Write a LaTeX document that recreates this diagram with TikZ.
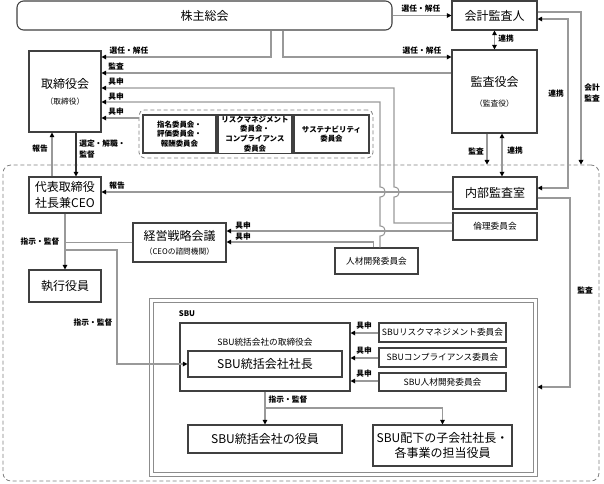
\documentclass[tikz,border=0pt]{standalone}
\usepackage{fontspec}
\setmainfont{Noto Sans CJK JP}
\usepackage{tikz}
\usetikzlibrary{calc}
\usetikzlibrary{arrows.meta}

\newcommand{\tsbig}{\fontsize{9}{11}\selectfont}
\newcommand{\tsmid}{\fontsize{6.5}{8}\selectfont}
\newcommand{\tssml}{\fontsize{5.8}{8}\selectfont}
\newcommand{\tscmt}{\fontsize{5.6}{7.2}\selectfont\bfseries}

\tikzset{
  box/.style={draw=black!75, line width=.8pt, align=center, inner sep=1pt, fill=white},
  bigtxt/.style={font=\tsbig},
  midtxt/.style={font=\tsmid},
  cmt/.style={box, line width=1.1pt, font=\tscmt},
  area/.style={draw=black!50, line width=.6pt, dash pattern=on 3pt off 2pt},
  link/.style={draw=black!40, line width=.8pt},
  lbl/.style={font=\tssml\bfseries, inner sep=0pt, align=center},
  >={Triangle[length=3.5pt,width=3.5pt,color=black]}
}

\begin{document}
\begin{tikzpicture}[x=.75pt,y=-.75pt]
\useasboundingbox (0,0) rectangle (604,483);

% areas
\node[area, rounded corners=6pt, minimum width=447pt, minimum height=237pt] (corp) at (301,323) {};
\node[area, rounded corners=4pt, minimum width=175.5pt, minimum height=36pt] (grp) at (256,134) {};
\node[draw=black!45, line width=.75pt, double, double distance=2.25pt, minimum width=288pt, minimum height=130.5pt] (sbu) at (343,387) {};

% top
\node[box, bigtxt, rounded corners=5pt, minimum width=281.25pt, minimum height=21.75pt] (gms) at (204.5,15.5) {株主総会};
\node[box, bigtxt, minimum width=63.75pt, minimum height=21.75pt] (acct) at (494.5,15.5) {会計監査人};
\node[box, bigtxt, minimum width=63.75pt, minimum height=62.25pt] (asb) at (494.5,91.5) {監査役会\\[4pt]{\tssml （監査役）}};
\node[box, bigtxt, minimum width=54pt, minimum height=60.75pt] (board) at (65,91.5) {取締役会\\[1pt]{\tssml （取締役）}};

% committees
\node[cmt, minimum width=54.75pt, minimum height=28.5pt] (nom) at (179.5,134) {指名委員会・\\評価委員会・\\報酬委員会};
\node[cmt, minimum width=55.5pt, minimum height=28.5pt] (risk) at (255,134) {リスクマネジメント\\委員会・\\コンプライアンス\\委員会};
\node[cmt, minimum width=56.25pt, minimum height=28.5pt] (sus) at (331.5,134) {サステナビリティ\\委員会};

% executive side
\node[box, font=\fontsize{9}{11.5}\selectfont, minimum width=54pt, minimum height=27pt] (ceo) at (65,195) {代表取締役\\社長兼CEO};
\node[box, bigtxt, minimum width=63pt, minimum height=24pt] (audit) at (495,193) {内部監査室};
\node[box, midtxt, minimum width=63pt, minimum height=20.25pt] (ethics) at (495,226.5) {倫理委員会};
\node[box, bigtxt, minimum width=69.75pt, minimum height=29.25pt] (strat) at (179.5,242.5) {経営戦略会議\\[-.5pt]{\tssml （CEOの諮問機関）}};
\node[box, midtxt, minimum width=62.25pt, minimum height=19.5pt] (hr) at (376.5,261) {人材開発委員会};
\node[box, bigtxt, minimum width=54pt, minimum height=24pt] (exec) at (65,286) {執行役員};

% SBU
\node[lbl] at (187,314) {SBU};
\node[box, minimum width=127.5pt, minimum height=51pt] (sbub) at (265,357) {};
\node[lbl, font=\tsmid] at (265,342) {SBU統括会社の取締役会};
\node[box, bigtxt, minimum width=115.5pt, minimum height=19.5pt] (sbup) at (265,364) {SBU統括会社社長};
\node[box, bigtxt, minimum width=115.5pt, minimum height=21pt] (sbuo) at (265,439) {SBU統括会社の役員};
\node[box, bigtxt, minimum width=104.25pt, minimum height=30.75pt] (sbusub) at (442.5,445.5) {SBU配下の子会社社長・\\各事業の担当役員};
\node[box, midtxt, minimum width=95.25pt, minimum height=14.25pt] (sburm) at (442.5,332.5) {SBUリスクマネジメント委員会};
\node[box, midtxt, minimum width=95.25pt, minimum height=14.25pt] (sbucp) at (442.5,357.5) {SBUコンプライアンス委員会};
\node[box, midtxt, minimum width=95.25pt, minimum height=13.5pt] (sbuhr) at (442.5,382) {SBU人材開発委員会};

% shareholders
\draw[link,->] (gms.east) -- (acct.west);
\node[lbl] at (421,9) {選任・解任};
\draw[link,->] (gms.south -| 271,0) |- (board.east |- 0,57);
\node[lbl] at (129,51) {選任・解任};
\draw[link,->] (gms.south -| 283,0) |- (asb.west |- 0,57);
\node[lbl] at (422,51) {選任・解任};
\draw[link,<->] (acct.south) -- (asb.north);
\node[lbl] at (506,39) {連携};

% into the board
\draw[link,->] (asb.west |- 0,73) -- (board.east |- 0,73);
\node[lbl] at (116,66) {監査};
\draw[link,->] (ethics.west |- 0,223) -| (394,197) .. controls (401,197) and (401,187) .. (394,187) |- (board.east |- 0,88);
\node[lbl] at (116,82) {具申};
\draw[link,->] ([xshift=2.6pt]hr.north) -- (380,236) .. controls (387,236) and (387,226) .. (380,226) -- (380,197) .. controls (387,197) and (387,187) .. (380,187) |- (board.east |- 0,102);
\node[lbl] at (116,97) {具申};
\draw[link,->] (grp.west |- 0,118) -- (board.east |- 0,118);
\node[lbl] at (116,112) {具申};

% board and ceo
\draw[link,draw=black!80,->] ([xshift=8.25pt]board.south) -- ([xshift=8.25pt]ceo.north);
\node[lbl, align=left, anchor=west] at (79,149) {選定・解職・\\監督};
\draw[link,->] ([xshift=-9.75pt]ceo.north) -- ([xshift=-9.75pt]board.south);
\node[lbl] at (40,149) {報告};

% audit
\draw[link,->] (audit.west |- 0,192) -- (ceo.east |- 0,192);
\node[lbl] at (117,186) {報告};
\draw[link,->] (asb.south -| 487,0) -- (corp.north -| 487,0);
\node[lbl] at (476,151) {監査};
\draw[link,<->] (asb.south -| 502,0) -- (audit.north -| 502,0);
\node[lbl] at (515,151) {連携};
\draw[link,<->] (acct.east |- 0,19) -| (568,188) -- (audit.east |- 0,188);
\node[lbl] at (556,94) {連携};
\draw[link,->] (acct.east |- 0,12) -| (corp.north -| 581,0);
\node[lbl] at (592,93) {会計\\監査};
\draw[link,->] (audit.east |- 0,198) -| (570,387) -- ([xshift=1.5pt]sbu.east);
\node[lbl] at (585,290) {監査};

% strategy meeting
\draw[link,->] (ethics.west |- 0,231) -- (strat.east |- 0,231);
\node[lbl] at (243,226) {具申};
\draw[link,->] ([xshift=-2.6pt]hr.north) |- (strat.east |- 0,242);
\node[lbl] at (243,237) {具申};

% ceo down
\draw[link,->] (ceo.south) -- (exec.north);
\draw[link] (strat.west) -- (strat.west -| ceo.south);
\node[lbl] at (40,242) {指示・監督};
\draw[link,->] (ceo.south |- 0,250) -- (117,250) |- (sbup.west);
\node[lbl] at (93,323) {指示・監督};

% inside SBU
\draw[link,->] (sbub.south) -- (sbuo.north);
\draw[link,->] (sbub.south |- 0,408) -| (sbusub.north);
\node[lbl] at (288,400) {指示・監督};
\foreach \c/\y in {sburm/333, sbucp/358, sbuhr/381} {
  \draw[link,->] (\c.west |- 0,\y) -- (sbub.east |- 0,\y);
  \node[lbl] at (364,\y-7) {具申};
}
\end{tikzpicture}
\end{document}
